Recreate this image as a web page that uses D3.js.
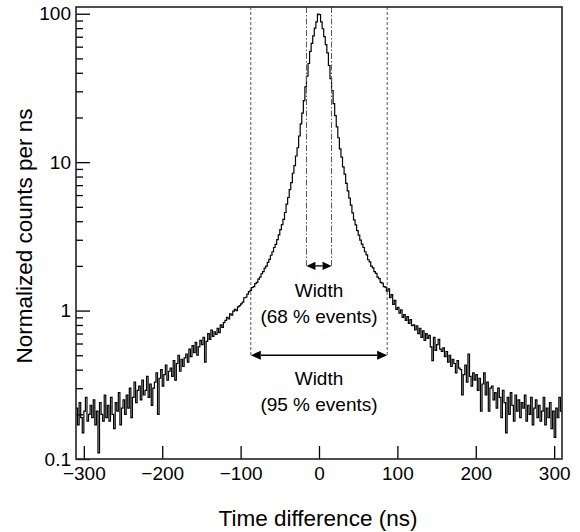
<!DOCTYPE html>
<html>
<head>
<meta charset="utf-8">
<script src="https://cdn.jsdelivr.net/npm/d3@7"></script>
<style>
  body { margin: 0; background: #fff; }
  text { font-family: "Liberation Sans", Arial, Helvetica, sans-serif; fill: #000; }
</style>
</head>
<body>
<div id="chart"></div>
<script>
// Histogram: 2 ns bins starting at -310 ns
const binWidth = 2;
const xStart = -310;

// bins -310 .. -100
const leftTail = [
  0.22, 0.17, 0.24, 0.19, 0.15, 0.21, 0.26, 0.18, 0.20, 0.23,
  0.19, 0.25, 0.17, 0.21, 0.11, 0.24, 0.20, 0.18, 0.27, 0.19,
  0.23, 0.18, 0.26, 0.20, 0.16, 0.24, 0.21, 0.28, 0.17, 0.22,
  0.25, 0.20, 0.27, 0.22, 0.30, 0.19, 0.26, 0.33, 0.24, 0.29,
  0.31, 0.25, 0.34, 0.27, 0.29, 0.36, 0.26, 0.32, 0.23, 0.30,
  0.33, 0.38, 0.20, 0.35, 0.40, 0.31, 0.37, 0.43, 0.34, 0.39,
  0.41, 0.36, 0.46, 0.34, 0.44, 0.50, 0.39, 0.47, 0.42, 0.48,
  0.51, 0.45, 0.55, 0.49, 0.58, 0.52, 0.61, 0.50, 0.57, 0.63,
  0.59, 0.66, 0.45, 0.62, 0.70, 0.64, 0.74, 0.67, 0.72, 0.69,
  0.76, 0.71, 0.80, 0.77, 0.83,
  0.86, 0.90, 0.88, 0.95, 0.93, 0.99, 1.02, 1.00, 1.06, 1.08
];

// bins -100 .. 100
const core = [
  1.11, 1.14, 1.22, 1.23, 1.29, 1.34, 1.37, 1.43, 1.45, 1.52,
  1.55, 1.63, 1.68, 1.77, 1.83, 1.93, 1.99, 2.11, 2.21, 2.36,
  2.49, 2.66, 2.79, 3.01, 3.24, 3.51, 3.79, 4.12, 4.58, 5.21,
  5.78, 6.52, 7.28, 8.42, 9.48, 11.0, 12.5, 15.0, 18.1, 21.4,
  26.0, 32.1, 38.0, 46.2, 55.8, 63.2, 71.0, 80.1, 88.2, 99.5,
  98.5, 88.0, 79.2, 70.1, 62.0, 54.5, 44.8, 36.5, 30.4, 24.8,
  20.6, 17.3, 14.6, 12.3, 10.8, 9.3, 8.3, 7.2, 6.4, 5.72,
  5.13, 4.55, 4.08, 3.78, 3.46, 3.22, 2.98, 2.80, 2.66, 2.49,
  2.37, 2.20, 2.13, 1.99, 1.94, 1.83, 1.78, 1.68, 1.64, 1.55,
  1.53, 1.45, 1.44, 1.35, 1.40, 1.22, 1.28, 1.10, 1.17, 1.02
];

// bins 100 .. 310
const rightTail = [
  1.05, 0.96, 1.01, 0.90, 0.94, 0.86, 0.91, 0.82, 0.87, 0.79,
  0.80, 0.74, 0.79, 0.70, 0.76, 0.66, 0.73, 0.63, 0.70, 0.65,
  0.68, 0.57, 0.46, 0.66, 0.54, 0.59, 0.64, 0.55, 0.53, 0.56,
  0.49, 0.53, 0.45, 0.50, 0.42, 0.47, 0.44, 0.38, 0.46, 0.41,
  0.40, 0.27, 0.37, 0.43, 0.33, 0.51, 0.36, 0.31, 0.38, 0.34,
  0.37, 0.29, 0.35, 0.21, 0.32, 0.38, 0.27, 0.33, 0.21, 0.30,
  0.31, 0.25, 0.28, 0.22, 0.30, 0.26, 0.19, 0.29, 0.24, 0.15,
  0.26, 0.20, 0.28, 0.23, 0.18, 0.27, 0.21, 0.25, 0.19, 0.24,
  0.22, 0.27, 0.18, 0.23, 0.20, 0.26, 0.17, 0.22, 0.25, 0.19,
  0.23, 0.18, 0.21, 0.26, 0.17, 0.22, 0.19, 0.24, 0.16, 0.21,
  0.14, 0.22, 0.19, 0.26, 0.21
];

const xTicks = [-300, -200, -100, 0, 100, 200, 300];
const yTicks = [0.1, 1, 10, 100];

// interval markers
const width68 = [-16, 16];
const width95 = [-87, 87];
const arrowY68 = 2;
const arrowY95 = 0.5;
const label68 = ["Width", "(68 % events)"];
const label95 = ["Width", "(95 % events)"];

const counts = [...leftTail, ...core, ...rightTail];
const bins = counts.map((v, i) => ({ x: xStart + i * binWidth, v }));
bins.push({ x: xStart + counts.length * binWidth, v: counts[counts.length - 1] });

const W = 580, H = 532;
const margin = { top: 7, right: 18, bottom: 73, left: 76 };
const width = W - margin.left - margin.right;
const height = H - margin.top - margin.bottom;

const svg = d3.select("#chart").append("svg")
  .attr("width", W).attr("height", H);

const g = svg.append("g")
  .attr("transform", `translate(${margin.left},${margin.top})`);

const x = d3.scaleLinear().domain([-310, 310]).range([0, width]);
const y = d3.scaleLog().domain([0.1, 111]).range([height, 0]);

g.append("clipPath").attr("id", "clip")
  .append("rect").attr("width", width).attr("height", height);

// histogram line
const line = d3.line()
  .x((d) => x(d.x))
  .y((d) => y(d.v))
  .curve(d3.curveStepAfter);

g.append("path")
  .datum(bins)
  .attr("clip-path", "url(#clip)")
  .attr("d", line)
  .attr("fill", "none")
  .attr("stroke", "#000")
  .attr("stroke-width", 1.2);

// vertical interval lines
function vLine(xv, yBottom, dash) {
  g.append("line")
    .attr("x1", x(xv)).attr("x2", x(xv))
    .attr("y1", 0).attr("y2", y(yBottom))
    .attr("stroke", "#555")
    .attr("stroke-width", 1)
    .attr("stroke-dasharray", dash);
}
width95.forEach((v) => vLine(v, arrowY95, "3,2"));
width68.forEach((v) => vLine(v, arrowY68, "6,2,1.5,2"));

// double arrows
function dArrow(range, yv, head) {
  const x0 = x(range[0]), x1 = x(range[1]), yy = y(yv);
  g.append("line")
    .attr("x1", x0 + head).attr("x2", x1 - head)
    .attr("y1", yy).attr("y2", yy)
    .attr("stroke", "#000").attr("stroke-width", 1.3);
  g.append("path")
    .attr("d", `M${x0},${yy}L${x0 + head},${yy - head * 0.45}L${x0 + head},${yy + head * 0.45}Z`)
    .attr("fill", "#000");
  g.append("path")
    .attr("d", `M${x1},${yy}L${x1 - head},${yy - head * 0.45}L${x1 - head},${yy + head * 0.45}Z`)
    .attr("fill", "#000");
}
dArrow(width68, arrowY68, 9);
dArrow(width95, arrowY95, 10);

// labels
function addLabel(lines, yv1, yv2) {
  g.append("text").attr("x", x(0)).attr("y", y(yv1))
    .attr("text-anchor", "middle").attr("font-size", "19px").text(lines[0]);
  g.append("text").attr("x", x(0)).attr("y", y(yv2))
    .attr("text-anchor", "middle").attr("font-size", "19px").text(lines[1]);
}
addLabel(label68, 1.23, 0.82);
addLabel(label95, 0.315, 0.21);

// axes: ticks inside the frame
const xAxis = g.append("g")
  .attr("transform", `translate(0,${height})`)
  .call(d3.axisBottom(x).tickValues(xTicks).tickSize(-13).tickPadding(8)
    .tickFormat(d3.format("d")));
xAxis.select(".domain").remove();
xAxis.selectAll("text").attr("font-size", "19px").attr("font-family", null);
xAxis.selectAll("line").attr("stroke-width", 1.3);

const minorY = [];
[0.1, 1, 10].forEach((dec) => {
  for (let k = 2; k <= 9; k++) minorY.push(dec * k);
});
const yMinor = g.append("g")
  .call(d3.axisLeft(y).tickValues(minorY).tickSize(-7).tickFormat(""));
yMinor.select(".domain").remove();
yMinor.selectAll("line").attr("stroke-width", 1.3);

const yAxis = g.append("g")
  .call(d3.axisLeft(y).tickValues(yTicks).tickSize(-14).tickPadding(5)
    .tickFormat((d) => (d < 1 ? "0.1" : d3.format("d")(d))));
yAxis.select(".domain").remove();
yAxis.selectAll("text").attr("font-size", "19px").attr("font-family", null);
yAxis.selectAll("line").attr("stroke-width", 1.3);

// frame
g.append("rect")
  .attr("width", width).attr("height", height)
  .attr("fill", "none").attr("stroke", "#222").attr("stroke-width", 1.6);

// axis titles
svg.append("text")
  .attr("x", margin.left + x(0) - 1).attr("y", 526)
  .attr("text-anchor", "middle").attr("font-size", "22.5px")
  .text("Time difference (ns)");

svg.append("text")
  .attr("transform", `translate(32,${margin.top + height / 2 + 3}) rotate(-90)`)
  .attr("text-anchor", "middle").attr("font-size", "22.5px")
  .text("Normalized counts per ns");
</script>
</body>
</html>
